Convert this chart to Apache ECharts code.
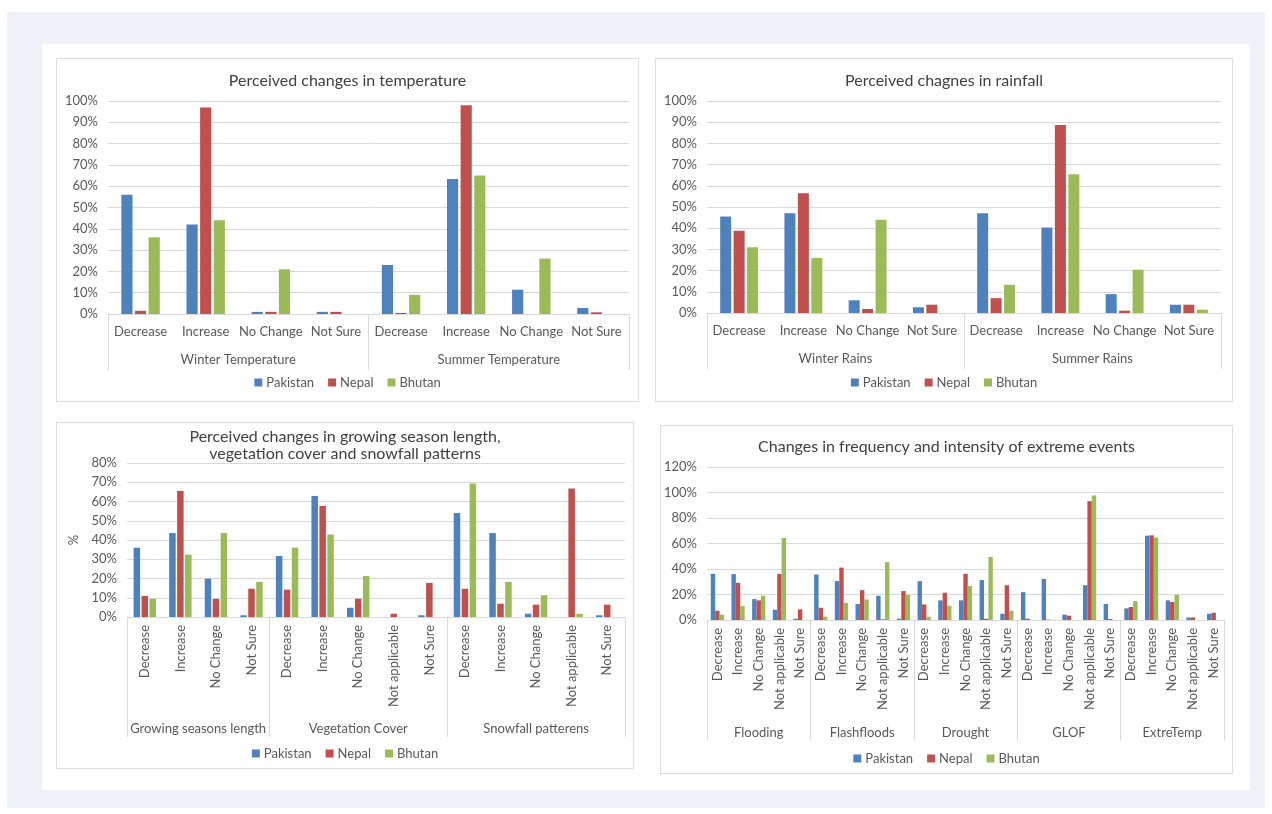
<!DOCTYPE html>
<html>
<head>
<meta charset="utf-8">
<title>Perceived climate changes: Pakistan, Nepal, Bhutan</title>
<script src="https://cdn.jsdelivr.net/npm/echarts@6/dist/echarts.min.js"></script>
<style>
  html, body { margin: 0; padding: 0; background: #ffffff; }
  body { width: 1272px; height: 814px; position: relative; overflow: hidden; font-family: Lato, "Open Sans", sans-serif; }
  .backdrop { position: absolute; left: 7px; top: 12px; width: 1258px; height: 796px; background: #eef1f7; }
  .sheet { position: absolute; left: 42px; top: 44px; width: 1208px; height: 746px; background: #ffffff; }
  .box { position: absolute; border: 1px solid #dcdcdc; background: #ffffff; box-sizing: border-box; }
</style>
</head>
<body>
<div class="backdrop"></div>
<div class="sheet"></div>
<div class="box" id="temp" style="left:56px; top:58px; width:583px; height:344px;"></div>
<div class="box" id="rain" style="left:655px; top:58px; width:578px; height:344px;"></div>
<div class="box" id="season" style="left:56px; top:422px; width:578px; height:347px;"></div>
<div class="box" id="events" style="left:660px; top:425px; width:573px; height:349px;"></div>
<script>
// ---- Data (percent of respondents) ----
const countries = ['Pakistan', 'Nepal', 'Bhutan'];
const countryColors = ['#4f81bd', '#c0504d', '#9bbb59'];

// Temperature
const tempGroups = ['Winter Temperature', 'Summer Temperature'];
const tempCats = ['Decrease', 'Increase', 'No Change', 'Not Sure'];
const tempPakistan = [56, 42, 1, 1, 23, 63.4, 11.4, 2.8];
const tempNepal = [1.5, 97, 1, 1, 0.5, 98, 0, 0.8];
const tempBhutan = [36, 44, 21, 0, 9, 65, 26, 0];

// Rainfall
const rainGroups = ['Winter Rains', 'Summer Rains'];
const rainCats = ['Decrease', 'Increase', 'No Change', 'Not Sure'];
const rainPakistan = [45.5, 47, 6, 2.7, 47, 40.3, 8.9, 3.9];
const rainNepal = [38.8, 56.5, 1.9, 3.9, 7, 88.7, 1.1, 3.9];
const rainBhutan = [31, 26, 44, 0, 13.3, 65.5, 20.4, 1.6];

// Growing season, vegetation cover, snowfall
const seasonGroups = ['Growing seasons length', 'Vegetation Cover', 'Snowfall patterens'];
const seasonCats = [
  ['Decrease', 'Increase', 'No Change', 'Not Sure'],
  ['Decrease', 'Increase', 'No Change', 'Not applicable', 'Not Sure'],
  ['Decrease', 'Increase', 'No Change', 'Not applicable', 'Not Sure']
];
const seasonPakistan = [36, 43.6, 19.9, 0.9, 31.7, 62.9, 4.8, 0, 0.9, 54, 43.6, 1.7, 0, 0.9];
const seasonNepal = [10.9, 65.5, 9.4, 14.7, 14.2, 57.7, 9.5, 1.7, 17.7, 14.7, 6.9, 6.4, 66.7, 6.4];
const seasonBhutan = [9.5, 32.4, 43.6, 18.2, 36, 42.9, 21.3, 0, 0, 69.3, 18.2, 11.3, 1.7, 0];

// Extreme events
const eventGroups = ['Flooding', 'Flashfloods', 'Drought', 'GLOF', 'ExtreTemp'];
const eventCats = ['Decrease', 'Increase', 'No Change', 'Not applicable', 'Not Sure'];
const eventPakistan = [36.2, 36, 16.4, 8.1, 1, 35.7, 30.5, 12.5, 19, 1, 30.5, 15.4, 15.4, 31.3, 4.9, 21.9, 32.3, 4.2, 27.3, 12.5, 9.1, 66.1, 15.4, 2, 4.9];
const eventNepal = [7.3, 29.2, 15.4, 36.2, 8.3, 9.6, 41.1, 23.4, 0.5, 22.7, 12.2, 21.4, 36.2, 1, 27.3, 1, 0.3, 3.4, 93.2, 0.8, 10.2, 66.4, 14.1, 2, 5.7];
const eventBhutan = [4.2, 10.9, 19, 64.3, 0, 2.6, 13.5, 16.1, 45.3, 19.8, 2.6, 11.2, 26.6, 49.5, 7.3, 0, 0, 0, 97.7, 0, 14.8, 64.6, 19.8, 0, 0];

// ---- Shared styling ----
const FONT = 'Lato, "Open Sans", sans-serif';
const TEXT = '#595959';
const LINE = '#d9d9d9';
const LABEL_SIZE = 13;

// Builds a clustered bar chart with a two-level category axis (sub-category + group)
function clusteredChart(elId, cfg) {
  const groupCats = cfg.groups.map((g, i) => Array.isArray(cfg.cats[0]) ? cfg.cats[i] : cfg.cats);
  const flatCats = groupCats.flat();
  const bounds = [0];
  groupCats.forEach(c => bounds.push(bounds[bounds.length - 1] + c.length));
  const centers = cfg.groups.map((g, i) => (bounds[i] + bounds[i + 1]) / 2);

  const chart = echarts.init(document.getElementById(elId), null, { renderer: 'canvas' });
  const seriesData = [cfg.pakistan, cfg.nepal, cfg.bhutan];
  chart.setOption({
    animation: false,
    textStyle: { fontFamily: FONT },
    color: countryColors,
    title: {
      text: cfg.title,
      left: 'center',
      top: cfg.titleTop,
      textStyle: { fontFamily: FONT, fontSize: cfg.titleSize, fontWeight: 'normal', color: '#404040', lineHeight: 17 }
    },
    legend: {
      data: countries,
      left: 'center',
      top: cfg.legendTop,
      icon: 'rect',
      itemWidth: 8,
      itemHeight: 8,
      itemGap: 14,
      textStyle: { fontFamily: FONT, fontSize: LABEL_SIZE, color: TEXT, padding: [0, 0, 0, -1] }
    },
    grid: cfg.grid,
    xAxis: [
      {
        type: 'category',
        data: flatCats,
        axisLine: { show: true, lineStyle: { color: LINE } },
        axisTick: { show: false },
        axisLabel: {
          interval: 0,
          rotate: cfg.rotate,
          margin: cfg.catMargin,
          fontFamily: FONT,
          fontSize: LABEL_SIZE,
          color: TEXT
        }
      },
      {
        type: 'value',
        min: 0,
        max: flatCats.length,
        position: 'bottom',
        offset: 0,
        axisLine: { show: false },
        splitLine: { show: false },
        axisTick: { show: true, customValues: bounds, length: cfg.sepLength, lineStyle: { color: LINE } },
        axisLabel: {
          customValues: centers,
          margin: cfg.groupMargin,
          fontFamily: FONT,
          fontSize: LABEL_SIZE,
          color: TEXT,
          formatter: v => {
            let idx = 0, best = Infinity;
            centers.forEach((c, i) => { if (Math.abs(c - v) < best) { best = Math.abs(c - v); idx = i; } });
            return cfg.groups[idx];
          }
        }
      }
    ],
    yAxis: {
      type: 'value',
      min: 0,
      max: cfg.yMax,
      interval: cfg.yInterval,
      name: cfg.yName || '',
      nameLocation: 'middle',
      nameGap: cfg.yNameGap || 40,
      nameTextStyle: { fontFamily: FONT, fontSize: LABEL_SIZE, color: TEXT },
      axisLine: { show: false },
      axisTick: { show: false },
      splitLine: { lineStyle: { color: LINE } },
      axisLabel: { formatter: '{value}%', margin: 10, fontFamily: FONT, fontSize: LABEL_SIZE, color: TEXT }
    },
    series: countries.map((name, i) => ({
      name: name,
      type: 'bar',
      xAxisIndex: 0,
      data: seriesData[i],
      barGap: cfg.barGap,
      barCategoryGap: cfg.catGap,
      itemStyle: { color: countryColors[i] }
    }))
  });
  return chart;
}

clusteredChart('temp', {
  title: 'Perceived changes in temperature',
  titleTop: 8, titleSize: 16,
  groups: tempGroups, cats: tempCats,
  pakistan: tempPakistan, nepal: tempNepal, bhutan: tempBhutan,
  grid: { left: 51, right: 9, top: 42, bottom: 87 },
  yMax: 100, yInterval: 10,
  rotate: 0, catMargin: 11, groupMargin: 39, sepLength: 56,
  legendTop: 312, barGap: '22%', catGap: '41%'
});

clusteredChart('rain', {
  title: 'Perceived chagnes in rainfall',
  titleTop: 8, titleSize: 16,
  groups: rainGroups, cats: rainCats,
  pakistan: rainPakistan, nepal: rainNepal, bhutan: rainBhutan,
  grid: { left: 51, right: 11, top: 42, bottom: 88 },
  yMax: 100, yInterval: 10,
  rotate: 0, catMargin: 11, groupMargin: 39, sepLength: 56,
  legendTop: 312, barGap: '22%', catGap: '41%'
});

clusteredChart('season', {
  title: 'Perceived changes in growing season length,\nvegetation cover and snowfall patterns',
  titleTop: 0, titleSize: 16,
  groups: seasonGroups, cats: seasonCats,
  pakistan: seasonPakistan, nepal: seasonNepal, bhutan: seasonBhutan,
  grid: { left: 70, right: 8, top: 40, bottom: 151 },
  yMax: 80, yInterval: 10, yName: '%', yNameGap: 47,
  rotate: 90, catMargin: 8, groupMargin: 105, sepLength: 120,
  legendTop: 319, barGap: '22%', catGap: '37%'
});

clusteredChart('events', {
  title: 'Changes in frequency and intensity of extreme events',
  titleTop: 7, titleSize: 16,
  groups: eventGroups, cats: eventCats,
  pakistan: eventPakistan, nepal: eventNepal, bhutan: eventBhutan,
  grid: { left: 46, right: 8, top: 41, bottom: 153 },
  yMax: 120, yInterval: 20,
  rotate: 90, catMargin: 8, groupMargin: 106, sepLength: 120,
  legendTop: 321, barGap: '0%', catGap: '36%'
});
</script>
</body>
</html>
